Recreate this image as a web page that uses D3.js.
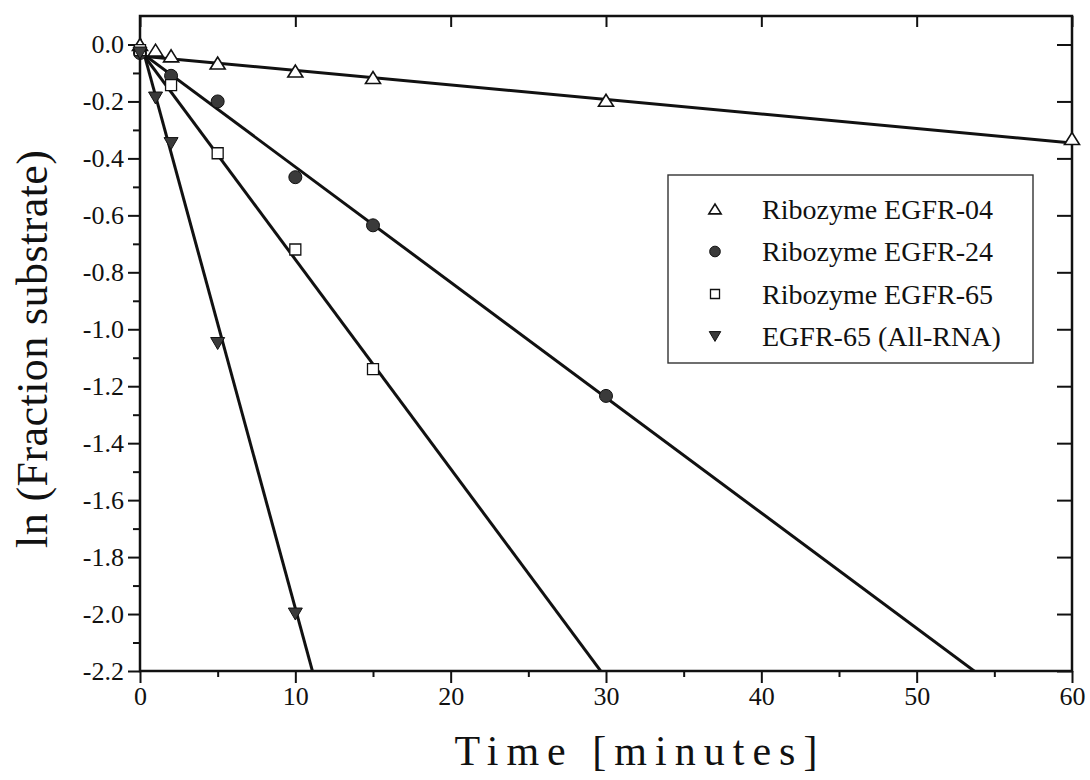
<!DOCTYPE html>
<html>
<head>
<meta charset="utf-8">
<script src="https://cdn.jsdelivr.net/npm/d3@7"></script>
<style>
  html, body { margin: 0; padding: 0; background: #fff; }
  svg { display: block; }
  text { font-family: "Liberation Serif", "Times New Roman", serif; fill: #111; }
</style>
</head>
<body>
<svg id="chart" width="1090" height="780"></svg>
<script>
// Tick values
const xTicks = [0, 10, 20, 30, 40, 50, 60];
const xMinorTicks = [5, 15, 25, 35, 45, 55];
const yTicks = [0.0, -0.2, -0.4, -0.6, -0.8, -1.0, -1.2, -1.4, -1.6, -1.8, -2.0, -2.2];
const yMinorTicks = [-0.1, -0.3, -0.5, -0.7, -0.9, -1.1, -1.3, -1.5, -1.7, -1.9, -2.1];

// Series labels
const seriesNames = ["Ribozyme EGFR-04", "Ribozyme EGFR-24", "Ribozyme EGFR-65", "EGFR-65 (All-RNA)"];

// Measured ln(fraction substrate) against time (minutes)
const timeEGFR04 = [0, 1, 2, 5, 10, 15, 30, 60];
const lnEGFR04   = [0.0, -0.02, -0.04, -0.065, -0.093, -0.116, -0.196, -0.33];

const timeEGFR24 = [0, 2, 5, 10, 15, 30];
const lnEGFR24   = [-0.03, -0.11, -0.20, -0.466, -0.635, -1.234];

const timeEGFR65 = [0, 2, 5, 10, 15];
const lnEGFR65   = [-0.02, -0.143, -0.382, -0.72, -1.14];

const timeAllRNA = [0, 1, 2, 5, 10];
const lnAllRNA   = [-0.03, -0.188, -0.348, -1.05, -2.0];

// Linear fits (intercept, slope per minute), same order as seriesNames
const fitIntercepts = [-0.04, -0.025, -0.02, 0.02];
const fitSlopes     = [-0.0051, -0.0405, -0.0735, -0.2];

const markerKinds = ["triUp", "circle", "square", "triDown"];

const series = [
  { t: timeEGFR04, v: lnEGFR04 },
  { t: timeEGFR24, v: lnEGFR24 },
  { t: timeEGFR65, v: lnEGFR65 },
  { t: timeAllRNA, v: lnAllRNA }
].map((s, i) => ({
  name: seriesNames[i],
  kind: markerKinds[i],
  points: s.t.map((t, j) => ({ t, v: s.v[j] })),
  a: fitIntercepts[i],
  b: fitSlopes[i]
}));

const svg = d3.select("#chart");
const plot = { left: 140, right: 1072, top: 16, bottom: 671 };

const x = d3.scaleLinear().domain([0, 60]).range([plot.left, plot.right]);
const y = d3.scaleLinear().domain([-2.2, 0.1]).range([plot.bottom, plot.top]);

const FONT = '"Liberation Serif", "Times New Roman", serif';
const INK = "#111";

svg.append("defs").append("clipPath").attr("id", "plot-clip")
  .append("rect")
  .attr("x", plot.left).attr("y", plot.top)
  .attr("width", plot.right - plot.left).attr("height", plot.bottom - plot.top);

// Fitted lines, clipped to the plotting frame
const fitLine = d3.line().x(d => x(d.t)).y(d => y(d.v));
svg.append("g").attr("clip-path", "url(#plot-clip)")
  .selectAll("path").data(series).join("path")
  .attr("d", s => fitLine([0, 60].map(t => ({ t, v: s.a + s.b * t }))))
  .attr("fill", "none").attr("stroke", INK).attr("stroke-width", 3);

function styleAxis(g, fontSize) {
  g.attr("font-family", FONT).attr("font-size", fontSize);
  g.select(".domain").remove();
  g.selectAll(".tick line").attr("stroke", INK).attr("stroke-width", 2);
  g.selectAll(".tick text").attr("fill", INK);
}

// Bottom axis: labelled major ticks + minor ticks
svg.append("g").attr("transform", `translate(0,${plot.bottom})`)
  .call(d3.axisBottom(x).tickValues(xTicks).tickSize(12).tickPadding(4).tickFormat(d3.format("d")))
  .call(g => styleAxis(g, 26));
svg.append("g").attr("transform", `translate(0,${plot.bottom})`)
  .call(d3.axisBottom(x).tickValues(xMinorTicks).tickSize(6).tickFormat(""))
  .call(g => styleAxis(g, 26));

// Left axis
svg.append("g").attr("transform", `translate(${plot.left},0)`)
  .call(d3.axisLeft(y).tickValues(yTicks).tickSize(12).tickPadding(4).tickFormat(d => d.toFixed(1)))
  .call(g => styleAxis(g, 26));
svg.append("g").attr("transform", `translate(${plot.left},0)`)
  .call(d3.axisLeft(y).tickValues(yMinorTicks).tickSize(7).tickFormat(""))
  .call(g => styleAxis(g, 26));

// Top and right axes: inward ticks, no labels
svg.append("g").attr("transform", `translate(0,${plot.top})`)
  .call(d3.axisTop(x).tickValues(xTicks).tickSize(-11).tickFormat(""))
  .call(g => styleAxis(g, 26));
svg.append("g").attr("transform", `translate(${plot.right},0)`)
  .call(d3.axisRight(y).tickValues(yTicks).tickSize(-15).tickFormat(""))
  .call(g => styleAxis(g, 26));

// Frame
svg.append("rect")
  .attr("x", plot.left).attr("y", plot.top)
  .attr("width", plot.right - plot.left).attr("height", plot.bottom - plot.top)
  .attr("fill", "none").attr("stroke", INK).attr("stroke-width", 2.5);

// Marker shapes
function markerPath(kind, cx, cy, s) {
  if (kind === "triUp") {
    const w = 15 * s, h = 12 * s;
    return `M${cx - w / 2},${cy + h / 2}L${cx},${cy - h / 2}L${cx + w / 2},${cy + h / 2}Z`;
  }
  if (kind === "triDown") {
    const w = 14 * s, h = 12 * s;
    return `M${cx - w / 2},${cy - h / 2}L${cx + w / 2},${cy - h / 2}L${cx},${cy + h / 2}Z`;
  }
  if (kind === "square") {
    const a = 11 * s;
    return `M${cx - a / 2},${cy - a / 2}h${a}v${a}h${-a}Z`;
  }
  const r = 6.5 * s;
  return `M${cx - r},${cy}a${r},${r} 0 1,0 ${2 * r},0a${r},${r} 0 1,0 ${-2 * r},0Z`;
}
const markerFill = { triUp: "#fff", square: "#fff", circle: "#3a3a3a", triDown: "#3a3a3a" };
const markerStrokeW = { triUp: 1.6, square: 1.3, circle: 1, triDown: 1 };

svg.append("g").selectAll("g").data(series).join("g")
  .each(function (s) {
    d3.select(this).selectAll("path").data(s.points).join("path")
      .attr("d", d => markerPath(s.kind, x(d.t), y(d.v), 1))
      .attr("fill", markerFill[s.kind])
      .attr("stroke", INK)
      .attr("stroke-width", markerStrokeW[s.kind]);
  });

// Legend
const legend = svg.append("g");
legend.append("rect")
  .attr("x", 668).attr("y", 175).attr("width", 365).attr("height", 188)
  .attr("fill", "#fff").attr("stroke", "#333").attr("stroke-width", 1.4);
const rowY = d3.scalePoint().domain(seriesNames).range([209, 336.5]);
const rows = legend.selectAll("g.row").data(series).join("g").attr("class", "row");
rows.append("path")
  .attr("d", s => markerPath(s.kind, 715, rowY(s.name), 0.82))
  .attr("fill", s => markerFill[s.kind])
  .attr("stroke", INK)
  .attr("stroke-width", s => markerStrokeW[s.kind]);
rows.append("text")
  .attr("x", 762).attr("y", s => rowY(s.name)).attr("dy", "0.35em")
  .attr("font-size", 28)
  .text(s => s.name);

// Axis titles
svg.append("text")
  .attr("x", 636).attr("y", 765)
  .attr("text-anchor", "middle")
  .attr("font-size", 42)
  .attr("textLength", 363).attr("lengthAdjust", "spacing")
  .text("Time [minutes]");

svg.append("text")
  .attr("transform", "translate(47,349) rotate(-90)")
  .attr("text-anchor", "middle")
  .attr("font-size", 44)
  .attr("textLength", 398).attr("lengthAdjust", "spacing")
  .text("ln (Fraction substrate)");
</script>
</body>
</html>
